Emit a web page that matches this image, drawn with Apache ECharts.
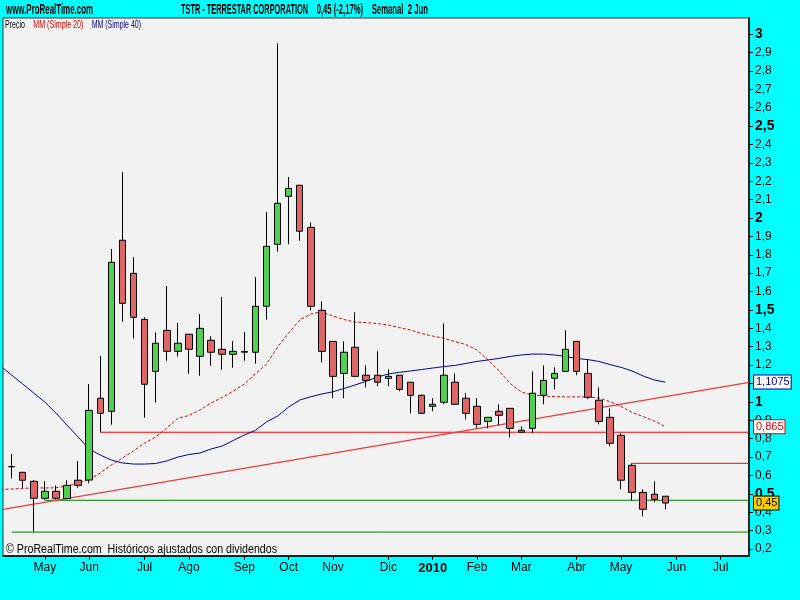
<!DOCTYPE html>
<html><head><meta charset="utf-8">
<script src="https://cdn.jsdelivr.net/npm/echarts@6/dist/echarts.min.js"></script>
<style>html,body{margin:0;padding:0;background:#00FFFF;}#c{width:800px;height:600px;}</style>
</head><body><div id="c"></div>
<script>
// ---- DATA (weekly candles, index 0 = mid-April 2009) ----
const opens  = [0.647,0.617,0.568,0.476,0.514,0.474,0.574,0.575,1.020,0.949,1.879,1.699,1.449,1.166,1.389,1.275,1.368,1.248,1.335,1.286,1.259,1.270,1.270,1.520,1.857,2.118,2.178,1.949,1.498,1.329,1.155,1.297,1.145,1.145,1.128,1.145,1.107,1.036,0.976,0.998,1.107,1.020,0.976,0.894,0.949,0.965,0.846,0.856,1.036,1.128,1.166,1.329,1.155,1.009,0.916,0.818,0.655,0.508,0.498,0.487];
const closes = [0.648,0.574,0.476,0.514,0.476,0.546,0.546,0.954,0.938,1.759,1.536,1.460,1.096,1.319,1.275,1.319,1.286,1.400,1.270,1.259,1.275,1.274,1.520,1.846,2.080,2.161,1.928,1.520,1.275,1.139,1.270,1.139,1.117,1.107,1.139,1.068,1.036,0.938,0.987,1.145,0.987,0.938,0.878,0.916,0.927,0.856,0.835,1.047,1.117,1.155,1.286,1.166,1.025,0.894,0.775,0.574,0.508,0.416,0.470,0.450];
const lows   = [0.584,0.533,0.294,0.466,0.470,0.470,0.533,0.557,0.835,0.876,1.436,1.344,0.914,0.996,1.224,1.246,1.153,1.142,1.197,1.175,1.186,1.224,1.208,1.447,1.817,1.857,1.876,1.498,1.215,1.020,1.020,1.135,1.079,1.085,1.085,1.058,0.938,0.935,0.949,0.987,0.985,0.905,0.856,0.856,0.873,0.807,0.829,0.829,0.987,1.068,1.165,1.145,1.014,0.878,0.759,0.525,0.465,0.378,0.454,0.416];
const highs  = [0.717,0.620,0.575,0.570,0.546,0.574,0.679,1.097,1.250,1.831,2.250,1.788,1.460,1.378,1.630,1.429,1.370,1.478,1.357,1.570,1.331,1.380,1.679,2.033,2.950,2.223,2.180,1.976,1.547,1.330,1.329,1.487,1.199,1.275,1.177,1.145,1.107,1.040,1.020,1.427,1.155,1.047,1.020,0.917,0.987,0.965,0.867,1.166,1.199,1.188,1.389,1.330,1.232,1.079,0.965,0.829,0.666,0.525,0.568,0.487];
// moving averages, first value is the week before index 0
const maStart = -1;
const ma20 = [0.524,0.526,0.530,0.532,0.532,0.533,0.543,0.559,0.578,0.613,0.657,0.695,0.733,0.776,0.809,0.858,0.911,0.926,0.956,0.994,1.024,1.059,1.097,1.152,1.206,1.298,1.375,1.445,1.478,1.490,1.467,1.448,1.434,1.431,1.426,1.418,1.404,1.391,1.372,1.358,1.346,1.328,1.312,1.282,1.228,1.168,1.100,1.054,1.037,1.032,1.029,1.027,1.027,1.027,1.021,1.001,0.975,0.942,0.920,0.896,0.865];
const ma40 = [1.195,1.146,1.097,1.048,0.999,0.939,0.874,0.809,0.744,0.711,0.684,0.668,0.662,0.662,0.665,0.679,0.700,0.714,0.722,0.744,0.760,0.790,0.820,0.845,0.891,0.923,0.972,1.010,1.028,1.043,1.055,1.073,1.092,1.112,1.135,1.152,1.161,1.168,1.176,1.184,1.192,1.198,1.209,1.220,1.228,1.237,1.247,1.255,1.260,1.260,1.255,1.247,1.236,1.230,1.220,1.203,1.188,1.168,1.141,1.119,1.1075];
// horizontal levels: [start index, level]
const redLevels   = [[8, 0.835], [56, 0.666]];
const greenLevels = [[3, 0.465], [0, 0.292]];
// trend line values at the left and right edges of the plot
const trendValues = [0.416, 1.106];
// axis ticks
const monthTicks  = [3,7,12,16,21,25,29,34,38,42,46,51,55,60,64];
const monthLabels = ['May','Jun','Jul','Ago','Sep','Oct','Nov','Dic','2010','Feb','Mar','Abr','May','Jun','Jul'];
const priceTicks  = [0.2,0.3,0.4,0.5,0.6,0.7,0.8,0.9,1.0,1.1,1.2,1.3,1.4,1.5,1.6,1.7,1.8,1.9,2.0,2.1,2.2,2.3,2.4,2.5,2.6,2.7,2.8,2.9,3.0];

// ---- CHART ----
const FONT = '"Liberation Sans", Arial, sans-serif';
const xMin = -0.78, xMax = 66.55, yMin = 0.162, yMax = 3.0875;
const chart = echarts.init(document.getElementById('c'), null, {renderer: 'canvas'});

const mctx = document.createElement('canvas').getContext('2d');
function fitScale(text, font, width) { mctx.font = font; return width / mctx.measureText(text).width; }
function txt(text, x, yc, width, font, color) {
  return {type: 'text', x: x, y: yc, scaleX: fitScale(text, font, width), z: 100,
    style: {text: text, font: font, fill: color, align: 'left', verticalAlign: 'middle', textAlign: 'left', textVerticalAlign: 'middle'}};
}
const comma = v => String(v).replace('.', ',');

const candleData = opens.map((o, i) => [i, o, closes[i], lows[i], highs[i]]);
const maSeries = arr => arr.map((v, k) => [k + maStart, v]);
const levelSeries = (lv, color) => lv.map(([s, v]) => ({
  type: 'line', data: [[s, v], [xMax, v]], symbol: 'none', silent: true, z: 3,
  lineStyle: {color: color, width: 1}
}));
const boxMark = (value, color, bg, border) => ({
  yAxis: value,
  label: {
    show: true, position: 'end', distance: 5, formatter: () => comma(value),
    color: color, backgroundColor: bg, borderColor: border, borderWidth: 1,
    padding: [1, 1, 0, 2], fontSize: 11, fontFamily: FONT, lineHeight: 12
  }
});

const option = {
  animation: false,
  backgroundColor: '#00FFFF',
  grid: {left: 3, right: 51, top: 18, bottom: 44, show: true, backgroundColor: '#F2F2F2',
         borderColor: '#333', borderWidth: 1, containLabel: false, outerBoundsMode: 'none'},
  xAxis: {
    type: 'value', min: xMin, max: xMax, splitLine: {show: false},
    axisLine: {show: true, onZero: false, lineStyle: {color: '#000', width: 1.5}},
    axisTick: {show: true, length: 4, lineStyle: {color: '#000'}, customValues: monthTicks},
    axisLabel: {
      customValues: monthTicks, margin: 6, color: '#000', fontSize: 12, fontFamily: FONT,
      formatter: v => { const s = monthLabels[monthTicks.indexOf(Math.round(v))] || ''; return /^\d{4}$/.test(s) ? '{b|' + s + '}' : s; },
      rich: {b: {fontWeight: 'bold', fontSize: 13, fontFamily: FONT, color: '#000'}}
    }
  },
  yAxis: {
    type: 'value', position: 'right', min: yMin, max: yMax, splitLine: {show: false},
    axisLine: {show: true, onZero: false, lineStyle: {color: '#000', width: 1.5}},
    axisTick: {show: true, length: 4, lineStyle: {color: '#000'}, customValues: priceTicks},
    axisLabel: {
      customValues: priceTicks, margin: 6, color: '#000', fontSize: 12, fontFamily: FONT,
      formatter: v => { const r = Math.round(v * 10) / 10; const s = comma(r);
        return Math.abs(r * 2 - Math.round(r * 2)) < 1e-6 ? '{b|' + s + '}' : s; },
      rich: {b: {fontWeight: 'bold', fontSize: 14, fontFamily: FONT, color: '#000'}}
    }
  },
  series: [
    ...levelSeries(redLevels, '#FF0000'),
    ...levelSeries(greenLevels, '#008000'),
    {type: 'line', data: [[xMin, trendValues[0]], [xMax, trendValues[1]]], symbol: 'none', silent: true, z: 3, clip: false,
     lineStyle: {color: '#EE3A3A', width: 1.2},
     markLine: {silent: true, symbol: 'none', animation: false, z: 20, precision: 4,
       lineStyle: {color: 'rgba(0,0,0,0)', width: 1, type: 'solid'},
       data: [
         boxMark(ma40[ma40.length - 1], '#0000A0', '#FFFFFF', '#0000A0'),
         boxMark(ma20[ma20.length - 1], '#E00000', '#FFFFFF', '#E00000'),
         boxMark(closes[closes.length - 1], '#000000', '#FFCC00', '#000000')
       ]}},
    {type: 'line', name: 'MM (Simple 20)', data: maSeries(ma20), symbol: 'none', silent: true, z: 4,
     lineStyle: {color: '#E00000', width: 1, type: [3, 2]}},
    {type: 'line', name: 'MM (Simple 40)', data: maSeries(ma40), symbol: 'none', silent: true, z: 4,
     lineStyle: {color: '#0000A0', width: 1}},
    {type: 'candlestick', name: 'Precio', data: candleData, encode: {x: 0, y: [1, 2, 3, 4]}, barWidth: 7, z: 6, silent: true,
     itemStyle: {color: '#50D050', color0: '#DE6666', borderColor: '#000', borderColor0: '#000', borderColorDoji: '#000', borderWidth: 1}}
  ],
  graphic: [
    txt('www.ProRealTime.com', 6, 9.5, 87, 'bold 15px ' + FONT, '#000'),
    txt('TSTR - TERRESTAR CORPORATION', 181, 9.5, 127, 'bold 15px ' + FONT, '#000'),
    txt('0,45 (-2,17%)', 316.7, 9.5, 46.3, 'bold 15px ' + FONT, '#000'),
    txt('Semanal  2 Jun', 371.7, 9.5, 56.3, 'bold 15px ' + FONT, '#000'),
    txt('Precio', 5, 25, 20, '11px ' + FONT, '#000'),
    txt('MM (Simple 20)', 33.3, 25, 50, '11px ' + FONT, '#E00000'),
    txt('MM (Simple 40)', 91.7, 25, 49.3, '11px ' + FONT, '#000090'),
    txt('\u00A9 ProRealTime.com  Hist\u00F3ricos ajustados con dividendos', 6, 550, 271, '12px ' + FONT, '#000')
  ]
};
chart.setOption(option);
</script></body></html>
